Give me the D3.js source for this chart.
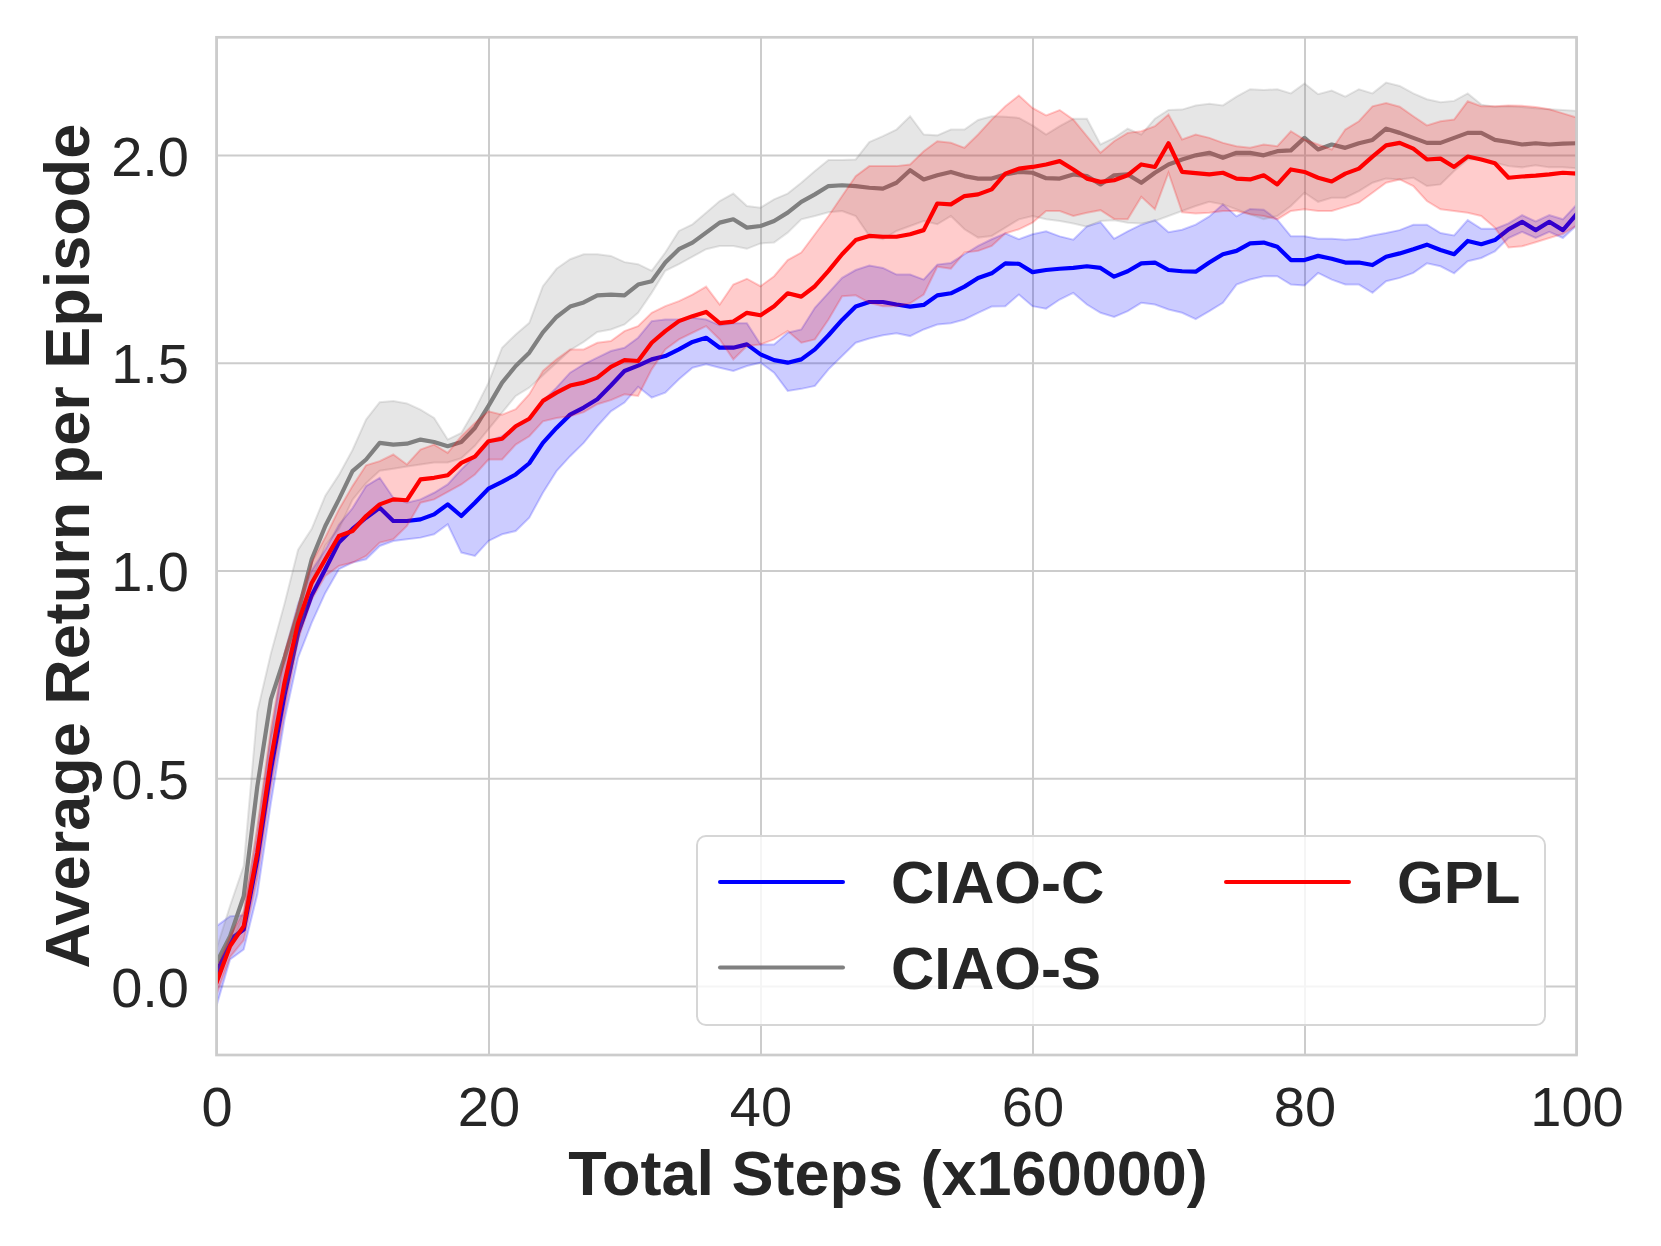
<!DOCTYPE html>
<html>
<head>
<meta charset="utf-8">
<script src="https://cdn.jsdelivr.net/npm/d3@7"></script>
<style>
  html, body { margin: 0; padding: 0; background: #ffffff; }
  svg { display: block; font-family: "Liberation Sans", Arial, Helvetica, sans-serif; }
</style>
</head>
<body>
<svg id="chart" width="1661" height="1246"></svg>
<script>
// ---------------- data ----------------
const steps = d3.range(0, 101); // x values 0..100 (x160000 total steps)

const xTicks = [0, 20, 40, 60, 80, 100];
const yTicks = [0.0, 0.5, 1.0, 1.5, 2.0];

const seriesNames = ["CIAO-C", "CIAO-S", "GPL"];

const ciaoCMean = [0.03,0.112,0.136,0.305,0.521,0.70,0.85,0.94,1.003,1.067,1.10,1.127,1.151,1.119,1.119,1.123,1.135,1.159,1.131,1.163,1.197,1.213,1.231,1.258,1.307,1.343,1.375,1.392,1.412,1.445,1.48,1.493,1.508,1.516,1.532,1.550,1.560,1.536,1.536,1.544,1.520,1.506,1.500,1.508,1.532,1.566,1.603,1.635,1.646,1.646,1.640,1.635,1.639,1.662,1.667,1.683,1.704,1.715,1.739,1.738,1.718,1.723,1.726,1.728,1.732,1.728,1.707,1.720,1.739,1.741,1.723,1.720,1.719,1.741,1.761,1.769,1.787,1.789,1.779,1.747,1.747,1.757,1.750,1.741,1.741,1.735,1.755,1.763,1.773,1.784,1.771,1.761,1.793,1.785,1.795,1.821,1.839,1.819,1.839,1.819,1.857];
const ciaoCLow = [-0.048,0.064,0.088,0.22,0.44,0.64,0.79,0.874,0.946,1.003,1.019,1.027,1.059,1.071,1.075,1.079,1.087,1.111,1.043,1.035,1.071,1.087,1.095,1.127,1.187,1.239,1.275,1.307,1.347,1.383,1.404,1.442,1.416,1.428,1.460,1.488,1.496,1.488,1.480,1.492,1.500,1.476,1.432,1.437,1.444,1.484,1.516,1.548,1.558,1.566,1.571,1.564,1.580,1.592,1.595,1.604,1.620,1.635,1.636,1.664,1.636,1.630,1.652,1.668,1.640,1.620,1.610,1.624,1.644,1.640,1.628,1.620,1.605,1.624,1.644,1.688,1.700,1.708,1.708,1.688,1.686,1.716,1.700,1.688,1.688,1.668,1.696,1.704,1.716,1.739,1.732,1.715,1.744,1.752,1.768,1.800,1.815,1.800,1.815,1.800,1.830];
const ciaoCHigh = [0.144,0.168,0.17,0.36,0.60,0.80,0.92,1.00,1.05,1.11,1.15,1.203,1.223,1.175,1.163,1.171,1.187,1.207,1.243,1.275,1.311,1.323,1.347,1.367,1.408,1.44,1.476,1.496,1.512,1.528,1.536,1.56,1.600,1.604,1.604,1.608,1.604,1.590,1.595,1.595,1.544,1.544,1.572,1.580,1.632,1.668,1.704,1.723,1.734,1.728,1.712,1.712,1.700,1.736,1.740,1.761,1.781,1.797,1.811,1.797,1.809,1.816,1.804,1.796,1.828,1.838,1.798,1.816,1.832,1.843,1.814,1.820,1.832,1.852,1.881,1.852,1.870,1.868,1.844,1.804,1.804,1.798,1.798,1.796,1.798,1.806,1.812,1.819,1.832,1.832,1.812,1.806,1.843,1.822,1.822,1.835,1.855,1.84,1.855,1.845,1.88];

const ciaoSMean = [0.056,0.12,0.216,0.48,0.69,0.79,0.90,1.027,1.107,1.171,1.239,1.267,1.307,1.303,1.305,1.315,1.309,1.299,1.309,1.343,1.396,1.452,1.492,1.524,1.573,1.610,1.635,1.645,1.662,1.664,1.662,1.688,1.696,1.741,1.773,1.789,1.813,1.837,1.845,1.825,1.829,1.841,1.861,1.887,1.905,1.925,1.927,1.925,1.921,1.919,1.933,1.963,1.941,1.951,1.959,1.949,1.943,1.943,1.953,1.959,1.957,1.944,1.943,1.953,1.949,1.929,1.951,1.953,1.933,1.957,1.977,1.989,1.999,2.005,1.993,2.005,2.005,1.999,2.009,2.011,2.041,2.013,2.025,2.017,2.028,2.036,2.063,2.053,2.041,2.029,2.029,2.041,2.053,2.053,2.036,2.031,2.025,2.028,2.025,2.027,2.028];
const ciaoSLow = [0.03,0.09,0.17,0.38,0.60,0.70,0.83,0.97,1.06,1.10,1.17,1.21,1.24,1.245,1.25,1.255,1.26,1.26,1.27,1.30,1.34,1.38,1.42,1.44,1.47,1.50,1.53,1.55,1.574,1.58,1.592,1.62,1.668,1.721,1.737,1.755,1.773,1.781,1.781,1.774,1.787,1.789,1.813,1.845,1.853,1.862,1.865,1.853,1.805,1.797,1.817,1.829,1.841,1.833,1.853,1.821,1.801,1.805,1.825,1.845,1.853,1.845,1.841,1.835,1.827,1.841,1.843,1.837,1.835,1.841,1.853,1.865,1.877,1.887,1.881,1.869,1.857,1.845,1.853,1.877,1.909,1.887,1.897,1.897,1.913,1.933,1.943,1.941,1.945,1.925,1.929,1.961,1.989,1.989,1.981,1.973,1.97,1.975,1.97,1.97,1.968];
const ciaoSHigh = [0.09,0.193,0.289,0.66,0.80,0.92,1.05,1.10,1.18,1.23,1.29,1.363,1.405,1.408,1.402,1.387,1.367,1.315,1.331,1.387,1.452,1.536,1.568,1.596,1.684,1.726,1.749,1.761,1.761,1.757,1.742,1.737,1.721,1.765,1.817,1.833,1.861,1.889,1.907,1.877,1.873,1.893,1.907,1.933,1.961,1.988,1.988,1.989,2.031,2.045,2.061,2.093,2.049,2.047,2.061,2.061,2.084,2.093,2.092,2.089,2.071,2.049,2.069,2.087,2.087,2.025,2.041,2.063,2.049,2.087,2.108,2.109,2.119,2.123,2.119,2.140,2.158,2.156,2.158,2.148,2.172,2.146,2.155,2.140,2.158,2.148,2.174,2.166,2.148,2.134,2.127,2.130,2.148,2.121,2.116,2.117,2.115,2.112,2.110,2.108,2.106];

const gplMean = [0.008,0.096,0.144,0.321,0.545,0.73,0.874,0.97,1.027,1.083,1.095,1.131,1.159,1.171,1.169,1.219,1.223,1.229,1.259,1.274,1.311,1.317,1.347,1.365,1.408,1.428,1.445,1.452,1.464,1.49,1.506,1.504,1.548,1.576,1.600,1.612,1.622,1.595,1.599,1.620,1.614,1.636,1.667,1.659,1.684,1.721,1.761,1.795,1.805,1.803,1.803,1.809,1.819,1.883,1.881,1.901,1.905,1.917,1.955,1.967,1.971,1.977,1.985,1.965,1.943,1.935,1.939,1.951,1.977,1.971,2.028,1.959,1.956,1.953,1.957,1.943,1.941,1.951,1.929,1.965,1.959,1.945,1.936,1.955,1.967,1.996,2.023,2.029,2.015,1.989,1.991,1.971,1.996,1.989,1.980,1.945,1.948,1.950,1.953,1.957,1.955];
const gplLow = [-0.02,0.07,0.11,0.26,0.48,0.66,0.834,0.93,0.987,1.011,1.019,1.035,1.067,1.075,1.107,1.163,1.171,1.189,1.207,1.231,1.267,1.267,1.303,1.323,1.359,1.367,1.371,1.381,1.40,1.41,1.424,1.420,1.484,1.532,1.556,1.572,1.588,1.556,1.508,1.540,1.544,1.556,1.576,1.548,1.556,1.604,1.660,1.662,1.644,1.636,1.636,1.643,1.664,1.731,1.726,1.765,1.769,1.781,1.811,1.821,1.837,1.865,1.865,1.853,1.861,1.867,1.846,1.845,1.899,1.869,1.957,1.862,1.859,1.861,1.865,1.865,1.857,1.853,1.845,1.865,1.869,1.865,1.865,1.875,1.885,1.909,1.933,1.941,1.925,1.889,1.869,1.865,1.861,1.853,1.825,1.777,1.78,1.79,1.80,1.81,1.83];
const gplHigh = [0.04,0.12,0.18,0.38,0.62,0.80,0.914,1.019,1.08,1.147,1.203,1.253,1.263,1.279,1.255,1.291,1.303,1.283,1.323,1.355,1.383,1.375,1.388,1.424,1.48,1.508,1.532,1.532,1.548,1.552,1.576,1.588,1.62,1.636,1.648,1.664,1.683,1.640,1.688,1.702,1.684,1.708,1.747,1.765,1.809,1.853,1.901,1.949,1.973,1.973,1.973,1.977,2.009,2.033,2.029,2.017,2.049,2.085,2.117,2.143,2.113,2.095,2.108,2.085,2.045,2.005,2.033,2.053,2.057,2.069,2.097,2.037,2.049,2.041,2.029,2.021,2.017,2.025,2.021,2.057,2.037,2.025,2.013,2.061,2.081,2.117,2.125,2.116,2.093,2.071,2.081,2.085,2.129,2.117,2.117,2.119,2.118,2.115,2.11,2.10,2.09];

const seriesColors = ["#0000ff", "#808080", "#ff0000"];

// ---------------- build ----------------
const series = [
  { name: seriesNames[0], mean: ciaoCMean, lo: ciaoCLow, hi: ciaoCHigh, color: seriesColors[0] },
  { name: seriesNames[1], mean: ciaoSMean, lo: ciaoSLow, hi: ciaoSHigh, color: seriesColors[1] },
  { name: seriesNames[2], mean: gplMean,   lo: gplLow,   hi: gplHigh,   color: seriesColors[2] }
];

const svg = d3.select("#chart");
const W = 1661, H = 1246;
svg.append("rect").attr("width", W).attr("height", H).attr("fill", "#ffffff");

const plot = { left: 216.5, right: 1576.5, top: 37.3, bottom: 1055 };
const x = d3.scaleLinear().domain([0, 100]).range([plot.left, plot.right]);
const y = d3.scaleLinear().domain([-0.166, 2.283]).range([plot.bottom, plot.top]);

const textColor = "#262626";
const gridColor = "#cccccc";

// grid
const gx = svg.append("g").attr("transform", `translate(0,${plot.bottom})`)
  .call(d3.axisBottom(x).tickValues(xTicks).tickSize(-(plot.bottom - plot.top)).tickFormat(d3.format("d")).tickPadding(18));
gx.select(".domain").remove();
gx.selectAll(".tick line").attr("stroke", gridColor).attr("stroke-width", 2);
gx.selectAll(".tick text").attr("fill", textColor).attr("font-size", 56).attr("dy", "0.71em")
  .attr("y", 31).style("font-family", "'Liberation Sans', Arial, sans-serif");

const gy = svg.append("g").attr("transform", `translate(${plot.left},0)`)
  .call(d3.axisLeft(y).tickValues(yTicks).tickSize(-(plot.right - plot.left)).tickFormat(d3.format(".1f")));
gy.select(".domain").remove();
gy.selectAll(".tick line").attr("stroke", gridColor).attr("stroke-width", 2);
gy.selectAll(".tick text").attr("fill", textColor).attr("font-size", 56)
  .attr("x", -(plot.left - 189)).attr("dy", "0.36em")
  .style("font-family", "'Liberation Sans', Arial, sans-serif");

// clip
svg.append("clipPath").attr("id", "clip").append("rect")
  .attr("x", plot.left).attr("y", plot.top)
  .attr("width", plot.right - plot.left).attr("height", plot.bottom - plot.top);

const dataG = svg.append("g").attr("clip-path", "url(#clip)");

series.forEach(s => {
  const pts = steps.map((t, i) => ({ t, m: s.mean[i], lo: s.lo[i], hi: s.hi[i] }));
  const line = d3.line().x(d => x(d.t)).y(d => y(d.m));
  const area = d3.area().x(d => x(d.t)).y0(d => y(d.lo)).y1(d => y(d.hi));
  dataG.append("path").datum(pts).attr("d", line)
    .attr("fill", "none").attr("stroke", s.color).attr("stroke-width", 4.2)
    .attr("stroke-linejoin", "round").attr("stroke-linecap", "square");
  dataG.append("path").datum(pts).attr("d", area)
    .attr("fill", s.color).attr("fill-opacity", 0.2)
    .attr("stroke", s.color).attr("stroke-opacity", 0.2).attr("stroke-width", 2);
});

// spines
svg.append("rect")
  .attr("x", plot.left).attr("y", plot.top)
  .attr("width", plot.right - plot.left).attr("height", plot.bottom - plot.top)
  .attr("fill", "none").attr("stroke", gridColor).attr("stroke-width", 2.7);

// axis labels
svg.append("text")
  .attr("x", 888).attr("y", 1195)
  .attr("text-anchor", "middle").attr("font-size", 63).attr("font-weight", "bold")
  .attr("fill", textColor).text("Total Steps (x160000)");

svg.append("text")
  .attr("transform", `translate(89,${(plot.top + plot.bottom) / 2}) rotate(-90)`)
  .attr("text-anchor", "middle").attr("font-size", 63).attr("font-weight", "bold")
  .attr("fill", textColor).text("Average Return per Episode");

// legend
const lg = svg.append("g");
lg.append("rect").attr("x", 697).attr("y", 836).attr("width", 848).attr("height", 189)
  .attr("rx", 9).attr("ry", 9)
  .attr("fill", "#ffffff").attr("fill-opacity", 0.8)
  .attr("stroke", "#d6d6d6").attr("stroke-width", 2);

const legendPos = [
  { hx: 720, tx: 891, cy: 882 },
  { hx: 720, tx: 891, cy: 967.5 },
  { hx: 1226, tx: 1397, cy: 882 }
];
series.forEach((s, i) => {
  const p = legendPos[i];
  lg.append("line").attr("x1", p.hx).attr("x2", p.hx + 123).attr("y1", p.cy).attr("y2", p.cy)
    .attr("stroke", s.color).attr("stroke-width", 4).attr("stroke-linecap", "round");
  lg.append("text").attr("x", p.tx).attr("y", p.cy + 21)
    .attr("font-size", 60).attr("font-weight", "bold").attr("fill", textColor).text(s.name);
});
</script>
</body>
</html>
